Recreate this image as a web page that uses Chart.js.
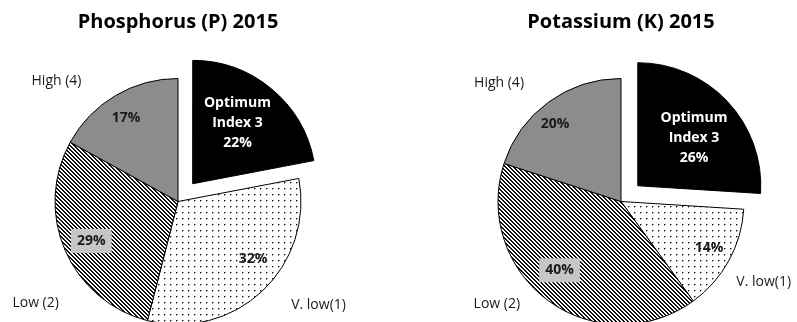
<!DOCTYPE html>
<html>
<head>
<meta charset="utf-8">
<script src="https://cdn.jsdelivr.net/npm/chart.js@4.4.1/dist/chart.umd.min.js"></script>
<style>
  html, body { margin: 0; padding: 0; background: #fff; }
  #wrap { position: relative; width: 797px; height: 322px; overflow: hidden; }
  .box { position: absolute; top: 0; width: 398px; height: 322px; }
</style>
</head>
<body>
<div id="wrap">
  <div class="box" style="left:0"><canvas id="chartP" width="398" height="322"></canvas></div>
  <div class="box" style="left:398px"><canvas id="chartK" width="398" height="322"></canvas></div>
</div>
<script>
  // slices run clockwise from 12 o'clock
  const categories = ["Optimum Index 3", "V. low (1)", "Low (2)", "High (4)"];
  const outsideLabels = ["", "V. low(1)", "Low (2)", "High (4)"];
  const phosphorusValues = [22, 32, 29, 17];
  const potassiumValues = [26, 14, 40, 20];
  const titles = ["Phosphorus (P) 2015", "Potassium (K) 2015"];

  const FONT = "'Open Sans', sans-serif";

  function makePattern(size, draw) {
    const c = document.createElement("canvas");
    c.width = size;
    c.height = size;
    const g = c.getContext("2d");
    draw(g, size);
    return g.createPattern(c, "repeat");
  }

  const dots = makePattern(6, (g, n) => {
    g.fillStyle = "#fff";
    g.fillRect(0, 0, n, n);
    g.fillStyle = "#999";
    g.fillRect(3, 2, 1, 1);
    g.fillRect(2, 3, 1, 1);
    g.fillStyle = "#111";
    g.fillRect(2, 2, 1, 1);
  });

  const stripes = makePattern(4, (g, n) => {
    for (let x = 0; x < n; x++) {
      for (let y = 0; y < n; y++) {
        g.fillStyle = (x - y + n) % n < 2 ? "#111" : "#fff";
        g.fillRect(x, y, 1, 1);
      }
    }
  });

  const fills = ["#000", dots, stripes, "#8c8c8c"];

  // v4 arcs move by offset / 4 (plus a small fix for thin slices)
  function arcShift(arc) {
    const off = (arc.options.offset || 0) / 4;
    const fix = 1 - Math.sin(Math.min(Math.PI, arc.circumference || 0));
    return off + off * fix;
  }

  // draws value labels inside and category labels outside each slice
  const sliceLabels = {
    id: "sliceLabels",
    afterDatasetsDraw(chart, args, opts) {
      const ctx = chart.ctx;
      const meta = chart.getDatasetMeta(0);
      const values = chart.data.datasets[0].data;
      ctx.save();
      ctx.textAlign = "center";
      ctx.textBaseline = "middle";
      meta.data.forEach((arc, i) => {
        const p = arc.getProps(["x", "y", "startAngle", "endAngle", "outerRadius"], true);
        const shift = arcShift(arc);
        const mid = (p.startAngle + p.endAngle) / 2;
        const cx = p.x + Math.cos(mid) * shift;
        const cy = p.y + Math.sin(mid) * shift;
        const place = (spot) => {
          const a = p.startAngle + (p.endAngle - p.startAngle) * spot[0];
          return [cx + Math.cos(a) * p.outerRadius * spot[1],
                  cy + Math.sin(a) * p.outerRadius * spot[1]];
        };

        const [vx, vy] = place(opts.inside[i]);
        ctx.font = "bold 14px " + FONT;
        if (i === 0) {
          ctx.fillStyle = "#fff";
          const lines = ["Optimum", "Index 3", values[i] + "%"];
          lines.forEach((t, k) => ctx.fillText(t, vx, vy + (k - 1) * 20));
        } else {
          const t = values[i] + "%";
          if (i === 2) {
            const w = ctx.measureText(t).width + 12;
            ctx.fillStyle = "#c6c6c6";
            ctx.fillRect(vx - w / 2, vy - 12, w, 24);
          }
          ctx.fillStyle = "#1a1a1a";
          ctx.fillText(t, vx, vy);
        }

        if (outsideLabels[i]) {
          const [ox, oy] = place(opts.outside[i]);
          ctx.font = "14px " + FONT;
          ctx.fillStyle = "#1a1a1a";
          ctx.fillText(outsideLabels[i], ox, oy);
        }
      });
      ctx.restore();
    }
  };

  function makePie(id, title, values, padding, inside, outside) {
    return new Chart(document.getElementById(id), {
      type: "pie",
      data: {
        labels: categories,
        datasets: [{
          data: values,
          backgroundColor: fills,
          borderColor: "#000",
          borderWidth: 1,
          offset: [92, 0, 0, 0],
          radius: 123,
          clip: false,
        }],
      },
      options: {
        responsive: false,
        animation: false,
        events: [],
        layout: { padding },
        plugins: {
          legend: { display: false },
          tooltip: { enabled: false },
          title: {
            display: true,
            text: title,
            color: "#000",
            font: { family: FONT, size: 20, weight: "bold", lineHeight: 1.2 },
            padding: { top: 10, bottom: 47 },
          },
          sliceLabels: { inside, outside },
        },
      },
      plugins: [sliceLabels],
    });
  }

  makePie("chartP", titles[0], phosphorusValues,
    { left: 0, right: 42, top: 0, bottom: 0 },
    [[0.46, 0.61], [0.42, 0.77], [0.49, 0.775], [0.48, 0.8]],
    [null, [0.41, 1.42], [0.385, 1.42], [0.26, 1.39]]);

  makePie("chartK", titles[1], potassiumValues,
    { left: 48, right: 0, top: 0, bottom: 0 },
    [[0.53, 0.6], [0.48, 0.81], [0.54, 0.75], [0.44, 0.83]],
    [null, [0.51, 1.33], [0.6, 1.31], [0.365, 1.385]]);
</script>
</body>
</html>
